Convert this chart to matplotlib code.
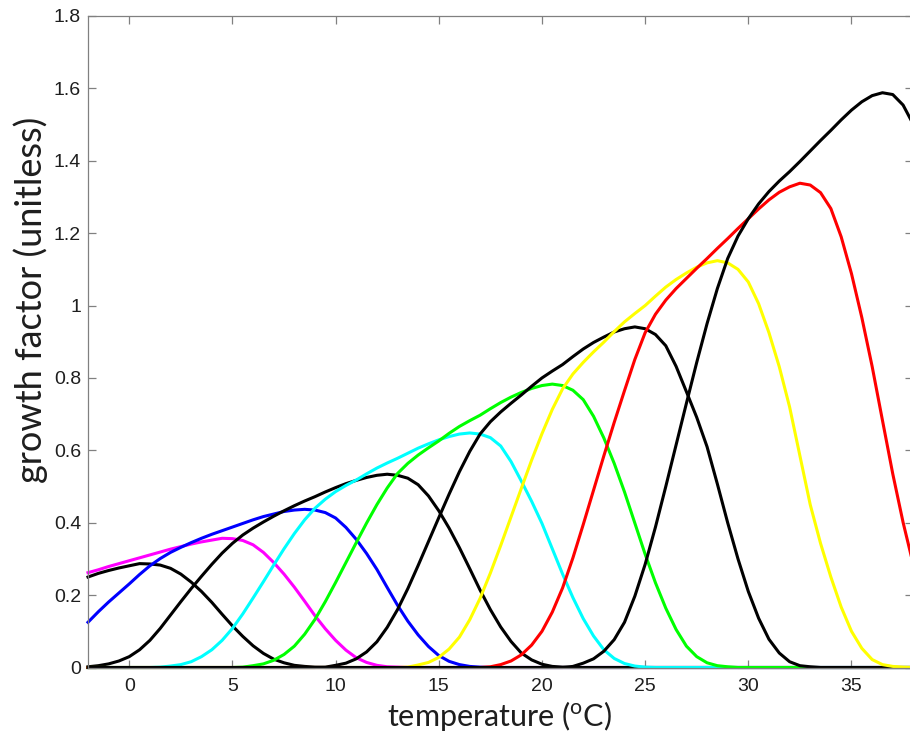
import numpy as np
import matplotlib.pyplot as plt

# temperature grid (degC) the curves were read on, 0.5 degC steps
temps = np.arange(-2, 38.01, 0.5)

# growth factor of each curve from its first temperature onwards
# (zero outside the listed range)
k1_start = -2
k1 = [0.250, 0.260, 0.268, 0.275, 0.281, 0.287, 0.286, 0.283, 0.274, 0.258,
      0.236, 0.210, 0.180, 0.147, 0.115, 0.086, 0.060, 0.039, 0.023, 0.013,
      0.006, 0.003, 0.001]
mag_start = -2
mag = [0.262, 0.270, 0.279, 0.287, 0.295, 0.303, 0.311, 0.319, 0.327, 0.334,
       0.341, 0.347, 0.352, 0.357, 0.356, 0.351, 0.339, 0.318, 0.290, 0.258,
       0.222, 0.183, 0.143, 0.107, 0.075, 0.048, 0.027, 0.014, 0.006, 0.002,
       0.001]
blue_start = -2
blue = [0.125, 0.154, 0.181, 0.206, 0.231, 0.257, 0.281, 0.301, 0.318, 0.332,
        0.345, 0.357, 0.368, 0.378, 0.388, 0.398, 0.408, 0.417, 0.424, 0.431,
        0.435, 0.437, 0.435, 0.428, 0.413, 0.387, 0.354, 0.315, 0.271, 0.221,
        0.172, 0.128, 0.090, 0.058, 0.033, 0.017, 0.008, 0.003, 0.001]
k2_start = -2
k2 = [0.002, 0.005, 0.010, 0.018, 0.030, 0.049, 0.075, 0.108, 0.145, 0.182,
      0.218, 0.252, 0.285, 0.316, 0.343, 0.366, 0.385, 0.402, 0.418, 0.433,
      0.447, 0.460, 0.472, 0.485, 0.497, 0.508, 0.517, 0.525, 0.531, 0.534,
      0.531, 0.523, 0.505, 0.474, 0.433, 0.385, 0.331, 0.273, 0.214, 0.160,
      0.112, 0.072, 0.040, 0.021, 0.009, 0.003, 0.001]
cyan_start = 1.5
cyan = [0.001, 0.004, 0.008, 0.016, 0.030, 0.049, 0.075, 0.108, 0.148, 0.192,
        0.237, 0.283, 0.328, 0.370, 0.408, 0.440, 0.465, 0.486, 0.503, 0.518,
        0.535, 0.551, 0.565, 0.578, 0.592, 0.606, 0.618, 0.629, 0.638, 0.645,
        0.648, 0.645, 0.635, 0.612, 0.569, 0.515, 0.459, 0.398, 0.328, 0.258,
        0.193, 0.135, 0.087, 0.049, 0.025, 0.011, 0.004, 0.001]
green_start = 5.5
green = [0.001, 0.005, 0.010, 0.020, 0.036, 0.059, 0.092, 0.133, 0.182, 0.235,
         0.290, 0.345, 0.399, 0.450, 0.496, 0.536, 0.564, 0.587, 0.607, 0.626,
         0.647, 0.666, 0.682, 0.697, 0.715, 0.732, 0.747, 0.760, 0.771, 0.779,
         0.783, 0.779, 0.766, 0.740, 0.694, 0.634, 0.564, 0.485, 0.399, 0.313,
         0.234, 0.164, 0.105, 0.059, 0.030, 0.013, 0.005, 0.002]
k3_start = 9.5
k3 = [0.001, 0.006, 0.012, 0.024, 0.043, 0.071, 0.111, 0.160, 0.218, 0.282,
      0.348, 0.414, 0.479, 0.541, 0.597, 0.645, 0.679, 0.706, 0.730, 0.753,
      0.777, 0.800, 0.819, 0.837, 0.859, 0.880, 0.898, 0.913, 0.927, 0.936,
      0.941, 0.936, 0.920, 0.889, 0.832, 0.762, 0.691, 0.610, 0.507, 0.400,
      0.300, 0.210, 0.136, 0.078, 0.040, 0.016, 0.005, 0.002]
yel_start = 13.5
yel = [0.001, 0.007, 0.014, 0.028, 0.051, 0.084, 0.132, 0.191, 0.261, 0.337,
       0.416, 0.495, 0.573, 0.646, 0.713, 0.770, 0.811, 0.843, 0.872, 0.899,
       0.928, 0.955, 0.978, 1.000, 1.026, 1.051, 1.072, 1.090, 1.106, 1.118,
       1.124, 1.118, 1.100, 1.065, 1.005, 0.925, 0.831, 0.720, 0.585, 0.450,
       0.343, 0.250, 0.167, 0.100, 0.053, 0.022, 0.008, 0.003, 0.001]
red_start = 17.5
red = [0.002, 0.008, 0.018, 0.035, 0.062, 0.100, 0.153, 0.220, 0.303, 0.395,
       0.490, 0.585, 0.677, 0.765, 0.851, 0.925, 0.976, 1.015, 1.047, 1.075,
       1.103, 1.130, 1.158, 1.185, 1.213, 1.240, 1.267, 1.292, 1.313, 1.328,
       1.338, 1.333, 1.312, 1.268, 1.190, 1.088, 0.967, 0.832, 0.683, 0.535,
       0.401, 0.283]
k4_start = 21.5
k4 = [0.003, 0.012, 0.024, 0.045, 0.077, 0.125, 0.197, 0.285, 0.388, 0.500,
      0.615, 0.730, 0.843, 0.950, 1.047, 1.130, 1.192, 1.240, 1.281, 1.315,
      1.344, 1.370, 1.398, 1.427, 1.456, 1.484, 1.513, 1.540, 1.563, 1.580,
      1.588, 1.583, 1.554, 1.500]


def full(start, vals):
    y = np.zeros(len(temps))
    i0 = int(round((start - temps[0]) * 2))
    y[i0:i0 + len(vals)] = vals
    return y


curves = [(k1_start, k1, 'k'), (mag_start, mag, '#ff00ff'),
          (blue_start, blue, '#0000ff'), (k2_start, k2, 'k'),
          (cyan_start, cyan, '#00ffff'), (green_start, green, '#00ff00'),
          (k3_start, k3, 'k'), (yel_start, yel, '#ffff00'),
          (red_start, red, '#ff0000'), (k4_start, k4, 'k')]

fig = plt.figure(figsize=(9.1, 7.38), dpi=100)
ax = fig.add_axes([88 / 910, (738 - 667.5) / 738, (913.4 - 88) / 910, (667.5 - 16) / 738])

for start, vals, col in curves:
    ax.plot(temps, full(start, vals), color=col, lw=2.2, clip_on=False,
            solid_joinstyle='round')

ax.set_xlim(-2, 38)
ax.set_ylim(0, 1.8)
ax.set_xticks([0, 5, 10, 15, 20, 25, 30, 35])
yt = [0, 0.2, 0.4, 0.6, 0.8, 1.0, 1.2, 1.4, 1.6, 1.8]
ax.set_yticks(yt)
ax.set_yticklabels(['0', '0.2', '0.4', '0.6', '0.8', '1', '1.2', '1.4', '1.6', '1.8'])

for s in ax.spines.values():
    s.set_color('#808080')
    s.set_linewidth(0.9)
ax.tick_params(direction='in', length=6, width=0.9, color='#808080',
               top=True, right=True, labelsize=14, labelcolor='#1e1e1e')
ax.tick_params(axis='x', pad=7.5)
ax.tick_params(axis='y', pad=5)
for lab in ax.get_xticklabels() + ax.get_yticklabels():
    lab.set_family('Liberation Sans')

plt.rcParams['mathtext.fontset'] = 'custom'
plt.rcParams['mathtext.rm'] = 'Lato'
fig.text(31 / 910, 1 - 300 / 738, 'growth factor (unitless)', rotation=90,
         ha='center', va='center', fontsize=26, family='Lato', color='#1e1e1e')
fig.text(499 / 910, 1 - 716 / 738, r'temperature ($\mathrm{^o}$C)',
         ha='center', va='center', fontsize=22, family='Lato', color='#1e1e1e')

fig.savefig('out.png', dpi=100, facecolor='white')
